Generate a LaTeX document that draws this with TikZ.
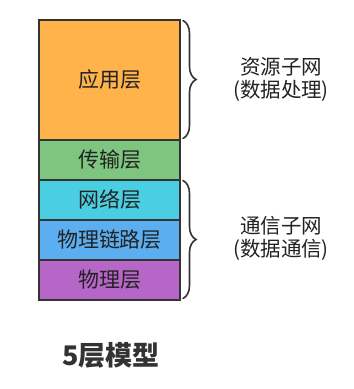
\documentclass[tikz,border=0pt]{standalone}
\usepackage{fontspec}
\newfontfamily\cjk{Noto Sans CJK SC}
\usepackage{xcolor}
\usepackage{tikz}
\usetikzlibrary{positioning,decorations.pathreplacing}
\definecolor{app}{HTML}{FFB34A}
\definecolor{trans}{HTML}{7EC67F}
\definecolor{net}{HTML}{4ACFE2}
\definecolor{link}{HTML}{5BAEF0}
\definecolor{phys}{HTML}{B666C7}
\definecolor{edge}{HTML}{333333}
\definecolor{ink}{HTML}{222222}
\tikzset{
  layer/.style={draw=edge, line width=2pt, minimum width=141pt, minimum height=40pt,
                outer sep=0pt, inner sep=0pt, font=\cjk\fontsize{21}{24}\selectfont,
                text=ink},
  brc/.style={draw=edge, line width=1.6pt, line cap=round,
              decorate, decoration={brace, amplitude=13pt}},
  note/.style={font=\cjk\fontsize{20.5}{23}\selectfont, text=ink, align=center},
}

\begin{document}
\begin{tikzpicture}[x=1pt, y=-1pt]
  \fill[white] (0,0) rectangle (354,389);
  \useasboundingbox (0,0) rectangle (354,389);

  % --- 五层堆叠 ---
  \node[layer, fill=app, minimum height=120pt, anchor=north] (app) at (109.5,19.5) {应用层};
  \node[layer, fill=trans, below=0pt of app] (trans) {传输层};
  \node[layer, fill=net, below=0pt of trans] (net) {网络层};
  \node[layer, fill=link, below=0pt of net] (link) {物理链路层};
  \node[layer, fill=phys, below=0pt of link] (phys) {物理层};

  % --- 右侧括号 ---
  \coordinate (b1s) at ([xshift=3pt,yshift=-1pt]app.north east);
  \coordinate (b1e) at ([xshift=3pt,yshift=1pt]app.south east);
  \coordinate (b2s) at ([xshift=3pt,yshift=-1pt]net.north east);
  \coordinate (b2e) at ([xshift=3pt,yshift=1pt]phys.south east);
  \draw[brc] (b1s) -- (b1e);
  \draw[brc] (b2s) -- (b2e);

  \node[note] (resnet) at (281,79) {资源子网\\(数据处理)};
  \node[note] (comnet) at (281,238) {通信子网\\(数据通信)};

  % --- 标题 ---
  \node[font=\cjk\bfseries\fontsize{27}{30}\selectfont, text=edge] (title) at (111,355) {5层模型};
\end{tikzpicture}
\end{document}
